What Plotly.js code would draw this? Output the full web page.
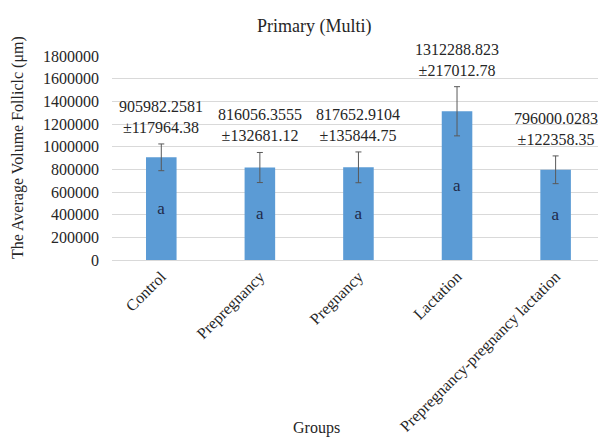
<!DOCTYPE html>
<html><head><meta charset="utf-8">
<script src="https://cdn.plot.ly/plotly-3.0.1.min.js"></script>
<style>html,body{margin:0;padding:0;background:#fff}</style>
</head><body>
<div id="chart" style="width:598px;height:439px"></div>
<script>
const categories = ["Control", "Prepregnancy", "Pregnancy", "Lactation", "Prepregnancy-pregnancy lactation"];
const means = [905982.2581, 816056.3555, 817652.9104, 1312288.823, 796000.0283];
const sds = [117964.38, 132681.12, 135844.75, 217012.78, 122358.35];
const meanLabels = ["905982.2581", "816056.3555", "817652.9104", "1312288.823", "796000.0283"];
const sdLabels = ["±117964.38", "±132681.12", "±135844.75", "±217012.78", "±122358.35"];
const letters = ["a", "a", "a", "a", "a"];
const yTicks = [0, 200000, 400000, 600000, 800000, 1000000, 1200000, 1400000, 1600000, 1800000];

const font = "Times New Roman";
const txt = "#262626";

const trace = {
  type: "bar",
  x: categories,
  y: means,
  marker: {color: "#5b9bd5"},
  error_y: {type: "data", array: sds, visible: true, color: "#595959", thickness: 1, width: 3},
  text: letters,
  textposition: "inside",
  insidetextanchor: "middle",
  textangle: 0,
  textfont: {family: font, size: 17, color: "#1f2a4a"},
  hoverinfo: "none"
};

const annotations = categories.map((c, i) => ({
  x: c, y: means[i] + sds[i], xref: "x", yref: "y",
  text: meanLabels[i] + "<br>" + sdLabels[i],
  showarrow: false, yanchor: "bottom", yshift: 6,
  font: {family: font, size: 16, color: txt}
}));
annotations.push({
  text: "Primary (Multi)", xref: "paper", yref: "paper", x: (314 - 112) / 486, y: (260 - 26) / 204,
  xanchor: "center", yanchor: "middle", showarrow: false,
  font: {family: font, size: 18, color: txt}
});
annotations.push({
  text: "Groups", xref: "paper", yref: "paper", x: (316 - 112) / 486, y: (260 - 428) / 204,
  xanchor: "center", yanchor: "middle", showarrow: false,
  font: {family: font, size: 16, color: txt}
});
annotations.push({
  text: "The Average Volume Folliclc (μm)", xref: "paper", yref: "paper", x: (18 - 112) / 486, y: (260 - 148) / 204,
  xanchor: "center", yanchor: "middle", showarrow: false, textangle: -90,
  font: {family: font, size: 16, color: txt}
});

const layout = {
  width: 598, height: 439,
  margin: {l: 112, r: 0, t: 56, b: 179},
  paper_bgcolor: "#fff", plot_bgcolor: "#fff",
  showlegend: false,
  bargap: 0.69,
  font: {family: font, color: txt},
  xaxis: {
    type: "category", range: [-0.5, 4.43], tickangle: -45,
    tickfont: {family: font, size: 16, color: txt},
    showgrid: false, showline: true, linecolor: "#d9d9d9", ticks: "",
    automargin: false
  },
  yaxis: {
    range: [0, 1800000], tickvals: yTicks, ticktext: yTicks.map(String),
    tickfont: {family: font, size: 16, color: txt},
    showgrid: true, gridcolor: "#d9d9d9", zeroline: false, ticks: "",
    ticklabelstandoff: 12, automargin: false
  },
  annotations: annotations
};

Plotly.newPlot("chart", [trace], layout, {staticPlot: true, displayModeBar: false});
</script>
</body></html>
